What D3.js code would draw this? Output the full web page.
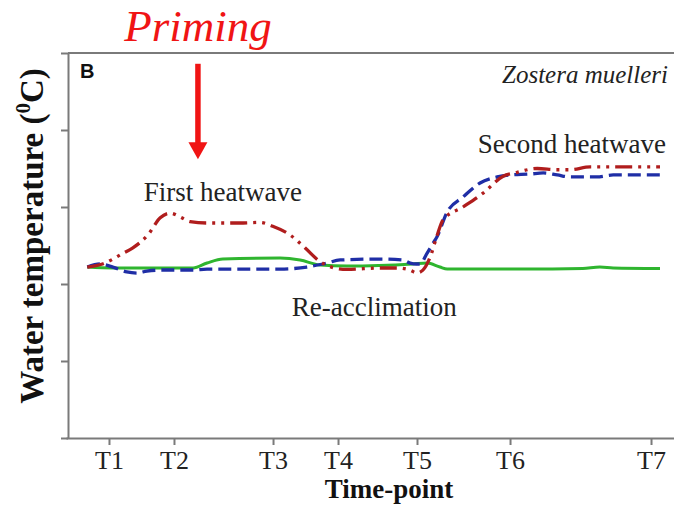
<!DOCTYPE html>
<html>
<head>
<meta charset="utf-8">
<script src="https://cdn.jsdelivr.net/npm/d3@7"></script>
<style>
  html, body { margin: 0; padding: 0; background: #fff; }
  svg { display: block; }
</style>
</head>
<body>
<div id="chart"></div>
<script>
// ---- Data (time in days, temperature in °C) ----
const timePointLabels = ["T1", "T2", "T3", "T4", "T5", "T6", "T7"];
const timePointDays   = [7.07, 17.76, 34.05, 44.74, 57.73, 73.03, 96.22];
const yTickValues     = [10, 15, 20, 25, 30, 35];

// Heat-primed (red, dash-dot-dot)
const primedSeries = [
  [3.5,21.1],[6,21.3],[9.4,22.0],[11,22.35],[13.5,23.2],[15.5,24.3],[17.1,24.6],
  [18.8,24.35],[20.4,24.05],[23.2,23.96],[28.6,23.96],[31.9,24.0],[34,23.75],
  [36.8,23.2],[39.3,22.35],[41.8,21.45],[44.2,21.04],[46.2,20.95],[51.6,21.04],
  [54.4,21.04],[56.6,20.9],[57.7,20.72],[58.7,20.9],[59.9,21.75],[61,23.1],
  [62,24.16],[65.3,25.0],[68.6,25.9],[71.9,27.0],[74.2,27.25],[77.5,27.5],
  [80.8,27.42],[82.9,27.42],[86.2,27.6],[90,27.6],[92.8,27.6],[97.7,27.6]
];
// Non-primed heat (blue, dashed)
const nonPrimedSeries = [
  [3.5,21.1],[5.6,21.3],[7.7,21.1],[10,20.78],[11.7,20.71],[13.3,20.84],[16,20.91],
  [20.9,20.91],[23.2,20.97],[35.2,20.97],[39.6,21.1],[42.9,21.36],[45.1,21.56],
  [51.6,21.62],[55.4,21.56],[56.6,21.36],[57.7,21.3],[58.2,21.3],[59.4,22.0],
  [60.4,22.66],[61,23.05],[62.7,24.68],[65.3,25.65],[68.1,26.56],[70.9,26.95],
  [73,27.08],[76.3,27.14],[78.5,27.21],[80.8,27.08],[82.9,26.95],[87.3,26.95],
  [90,27.08],[92.8,27.08],[97.7,27.08]
];
// Control (green, solid)
const controlSeries = [
  [3.5,21.1],[7.7,21.04],[20.9,21.04],[23.2,21.36],[25.8,21.62],[35.2,21.69],
  [38.5,21.56],[41.8,21.23],[46.2,21.17],[57,21.3],[59.4,21.36],[61.5,21.1],
  [62.7,20.97],[68,20.97],[80,20.97],[85,21.0],[87.8,21.1],[90,21.04],[97.7,21.0]
];

// Annotations: [text, day, temperature]
const phaseLabels = [
  ["First heatwave", 25.8, 25.38],
  ["Second heatwave", 83.2, 28.5],
  ["Re-acclimation", 50.7, 17.9]
];
const primingArrow = { day: 21.7, fromTemp: 34.3, toTemp: 28.1 };

// ---- Layout ----
const W = 674, H = 508;
const svg = d3.select("#chart").append("svg").attr("width", W).attr("height", H);

const x = d3.scaleLinear().domain([0, 100]).range([66, 674]);
const y = d3.scaleLinear().domain([10, 35]).range([438, 53]);

const serif = "'Liberation Serif', 'Times New Roman', Times, serif";
const axisColor = "#7a7a7a";

// Top frame line
svg.append("line")
  .attr("x1", 68).attr("x2", W)
  .attr("y1", y(35)).attr("y2", y(35))
  .attr("stroke", axisColor).attr("stroke-width", 2);

// Y axis (ticks only, no labels)
const yAxis = svg.append("g")
  .attr("transform", "translate(68,0)")
  .call(d3.axisLeft(y).tickValues(yTickValues).tickSize(7).tickSizeOuter(0).tickFormat(""));
yAxis.selectAll("path, line").attr("stroke", axisColor).attr("stroke-width", 2);

// X axis
const xAxis = svg.append("g")
  .attr("transform", `translate(0,${y(10)})`)
  .call(d3.axisBottom(x).tickValues(timePointDays).tickSize(7).tickSizeOuter(0)
    .tickPadding(6)
    .tickFormat((d, i) => timePointLabels[i]));
xAxis.selectAll("path, line").attr("stroke", axisColor).attr("stroke-width", 2);
xAxis.selectAll("text")
  .attr("font-family", serif).attr("font-size", 26).attr("fill", "#222")
  .attr("dy", "0.71em");

// Lines
const line = d3.line().x(d => x(d[0])).y(d => y(d[1])).curve(d3.curveMonotoneX);

svg.append("path").datum(controlSeries)
  .attr("d", line).attr("fill", "none")
  .attr("stroke", "#2fb52f").attr("stroke-width", 3);

svg.append("path").datum(nonPrimedSeries)
  .attr("d", line).attr("fill", "none")
  .attr("stroke", "#1f2ea6").attr("stroke-width", 3.3)
  .attr("stroke-dasharray", "13,6");

svg.append("path").datum(primedSeries)
  .attr("d", line).attr("fill", "none")
  .attr("stroke", "#b01d1d").attr("stroke-width", 3.3)
  .attr("stroke-dasharray", "17,6,3,6,3,6");

// Phase labels
svg.selectAll("text.phase").data(phaseLabels).enter().append("text")
  .attr("class", "phase")
  .attr("x", d => x(d[1])).attr("y", d => y(d[2]))
  .attr("text-anchor", "middle")
  .attr("font-family", serif).attr("font-size", 27).attr("fill", "#222")
  .text(d => d[0]);

// Panel letter
svg.append("text")
  .attr("x", 80).attr("y", 78)
  .attr("font-family", "'Liberation Sans', Arial, sans-serif")
  .attr("font-weight", "bold").attr("font-size", 20).attr("fill", "#111")
  .text("B");

// Species
svg.append("text")
  .attr("x", 668).attr("y", 83)
  .attr("text-anchor", "end")
  .attr("font-family", serif).attr("font-style", "italic")
  .attr("font-size", 25).attr("fill", "#222")
  .text("Zostera muelleri");

// Priming label + arrow
svg.append("text")
  .attr("x", x(primingArrow.day)).attr("y", 41)
  .attr("text-anchor", "middle")
  .attr("font-family", serif).attr("font-style", "italic")
  .attr("font-size", 45).attr("fill", "#f01414")
  .text("Priming");

const ax = x(primingArrow.day), ay1 = y(primingArrow.fromTemp), ay2 = y(primingArrow.toTemp);
svg.append("line")
  .attr("x1", ax).attr("x2", ax).attr("y1", ay1).attr("y2", ay2 - 16)
  .attr("stroke", "#f01414").attr("stroke-width", 5.5);
svg.append("path")
  .attr("d", `M${ax - 9.5},${ay2 - 17} L${ax + 9.5},${ay2 - 17} L${ax},${ay2} Z`)
  .attr("fill", "#f01414");

// Axis titles
svg.append("text")
  .attr("x", 389).attr("y", 498)
  .attr("text-anchor", "middle")
  .attr("font-family", serif).attr("font-weight", "bold")
  .attr("font-size", 27).attr("fill", "#111")
  .text("Time-point");

const yt = svg.append("text")
  .attr("transform", "translate(43,236) rotate(-90)")
  .attr("text-anchor", "middle")
  .attr("font-family", serif).attr("font-weight", "bold")
  .attr("font-size", 33).attr("fill", "#111");
yt.append("tspan").text("Water temperature (");
yt.append("tspan").attr("font-size", 21).attr("dy", -13).text("0");
yt.append("tspan").attr("dy", 13).text("C)");
</script>
</body>
</html>
